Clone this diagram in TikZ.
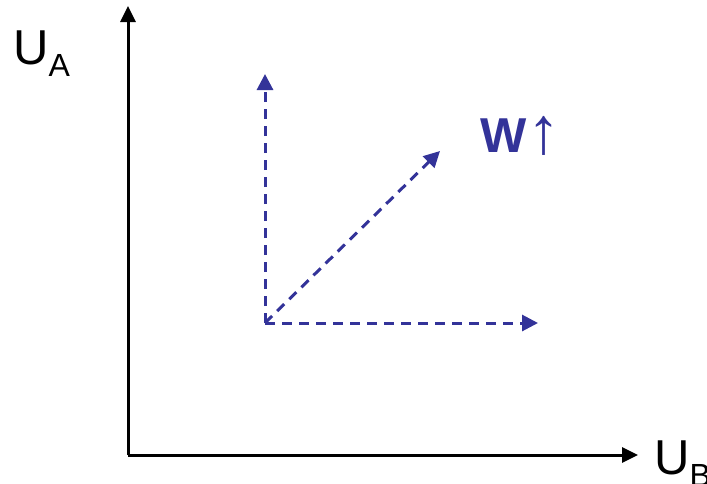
\documentclass[tikz,border=0pt]{standalone}
\usepackage{fontspec}
\setmainfont{Liberation Sans}
\usetikzlibrary{arrows.meta}
\definecolor{vec}{HTML}{333399}
\begin{document}
\begin{tikzpicture}[x=1pt,y=-1pt,
  axis/.style={line width=3pt,-{Triangle[length=16pt,width=15pt]}},
  vecline/.style={vec,line width=3pt,dash pattern=on 10pt off 7pt,-{Triangle[length=16pt,width=16pt]}},
  lbl/.style={inner sep=0pt,anchor=base west,font=\fontsize{49}{49}\selectfont}]
\useasboundingbox (0,0) rectangle (707,483);
\coordinate (O) at (128,455);
\coordinate (Yend) at (128,6);
\coordinate (Xend) at (638,455);
\draw[axis] (O) -- (Yend);
\draw[axis] (O) -- (Xend);
\coordinate (P) at (265,323);
\coordinate (Pup) at (265,74);
\coordinate (Pright) at (538,323);
\coordinate (Pdiag) at (440,151);
\draw[vecline] (P) -- (Pup);
\draw[vecline] (P) -- (Pright);
\draw[vecline] (P) -- (Pdiag);
\node[lbl] (UA) at (13,64) {U\raisebox{-12pt}{\fontsize{32}{32}\selectfont A}};
\node[lbl] (UB) at (654,474) {U\raisebox{-12pt}{\fontsize{32}{32}\selectfont B}};
\node[lbl,text=vec] (W) at (480,152) {\textbf{W}\hspace{1pt}\raisebox{-1pt}{\fontsize{66}{66}\selectfont↑}};
\end{tikzpicture}
\end{document}
